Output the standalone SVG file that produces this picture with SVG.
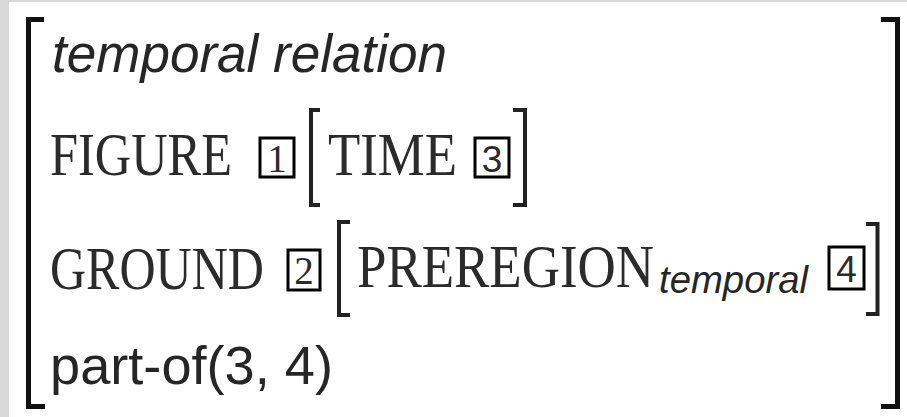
<svg xmlns="http://www.w3.org/2000/svg" width="907" height="417" viewBox="0 0 907 417">
<style>
.br{fill:none;stroke:#111;stroke-width:5;stroke-linecap:butt;stroke-linejoin:miter}
.ib{fill:none;stroke:#222;stroke-width:4;stroke-linecap:butt;stroke-linejoin:miter}
.box{fill:none;stroke:#000;stroke-width:3}
.sc{font-family:"Liberation Serif",serif;font-size:52px;fill:#2b2b2b}
.it{font-family:"Liberation Sans",sans-serif;font-style:italic;fill:#262626}
.ss{font-family:"Liberation Sans",sans-serif;fill:#262626}
.dg{font-family:"Liberation Serif",serif;font-size:39px;fill:#2b2b2b;text-anchor:middle}
.dgs{font-family:"Liberation Sans",sans-serif;font-size:37px;fill:#2b2b2b;text-anchor:middle}
</style>
<rect x="0" y="0" width="907" height="417" fill="#ffffff"/>
<rect x="0" y="0" width="9" height="417" fill="#d9d9d9"/>
<rect x="0" y="0" width="907" height="2" fill="#d9d9d9"/>
<g id="outer-brackets">
<path class="br" d="M44,19.5 H28.5 V406.5 H45"/>
<path class="br" d="M881,19.5 H897.5 V406.5 H881"/>
</g>
<g id="type">
<text class="it" x="52" y="72" font-size="53" textLength="395" lengthAdjust="spacingAndGlyphs">temporal relation</text>
</g>
<g id="figure">
<text class="sc" transform="translate(50,175) scale(1,1.16)" x="0" y="0" textLength="182" lengthAdjust="spacingAndGlyphs">FIGURE</text>
<rect class="box" x="260" y="138" width="34" height="39"/>
<text class="dg" x="277" y="172">1</text>
<path class="ib" d="M320,110 H311 V205 H320"/>
<text class="sc" transform="translate(328,175) scale(1,1.16)" x="0" y="0" textLength="129" lengthAdjust="spacingAndGlyphs">TIME</text>
<rect class="box" x="475" y="138" width="34" height="39"/>
<text class="dgs" x="492" y="172">3</text>
<path class="ib" d="M513,110 H525 V205 H513"/>
</g>
<g id="ground">
<text class="sc" transform="translate(50,289) scale(1,1.16)" x="0" y="0" textLength="214" lengthAdjust="spacingAndGlyphs">GROUND</text>
<rect class="box" x="288" y="250" width="32" height="40"/>
<text class="dg" x="304" y="284">2</text>
<path class="ib" d="M350,222 H339 V315 H350"/>
<text class="sc" transform="translate(357,287) scale(1,1.16)" x="0" y="0" textLength="297" lengthAdjust="spacingAndGlyphs">PREREGION</text>
<text class="it" x="659" y="293" font-size="38" textLength="149" lengthAdjust="spacingAndGlyphs">temporal</text>
<rect class="box" x="829" y="247" width="35" height="42"/>
<text class="dgs" x="846.5" y="282">4</text>
<path class="ib" d="M866,224 H877.5 V314 H866"/>
</g>
<g id="constraint">
<text class="ss" x="50" y="384" font-size="54" textLength="283" lengthAdjust="spacingAndGlyphs">part-of(3, 4)</text>
</g>
</svg>
